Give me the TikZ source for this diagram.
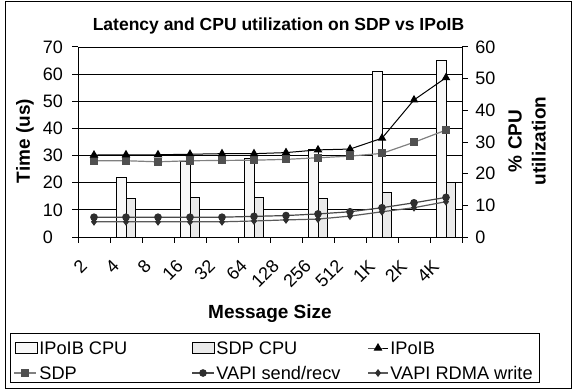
\documentclass[tikz,border=0pt]{standalone}
\usepackage{fontspec}
\setmainfont{Liberation Sans}
\usepackage{xcolor}
\usepackage{tikz}
\usetikzlibrary{plotmarks}

\definecolor{ipoibfill}{HTML}{F8F8F8}
\definecolor{sdpfill}{HTML}{EAEAEA}
\definecolor{sdpline}{HTML}{808080}
\definecolor{sdpmark}{HTML}{505050}
\definecolor{sendline}{HTML}{484848}
\definecolor{rdmaline}{HTML}{5A5A5A}
\definecolor{vapimark}{HTML}{2E2E2E}

\tikzset{
  ticklbl/.style={inner sep=0pt,font=\fontsize{9}{10.8}\selectfont},
  xlbl/.style={ticklbl,rotate=45,anchor=east},
  axtitle/.style={inner sep=0pt,font=\fontsize{9.5}{12}\selectfont\bfseries},
  legtext/.style={inner sep=0pt,anchor=base west,font=\fontsize{9.1}{10.8}\selectfont},
  gridline/.style={line width=0.45pt,black},
  ipoibbar/.style={draw=black,line width=0.4pt,fill=ipoibfill},
  sdpbar/.style={draw=black,line width=0.4pt,fill=sdpfill},
  ipoibser/.style={black,line width=0.5pt,mark=triangle*,mark size=2pt,mark options={fill=black}},
  sdpser/.style={sdpline,line width=0.6pt,mark=square*,mark size=1.7pt,mark options={draw=sdpmark,fill=sdpmark}},
  sendser/.style={sendline,line width=0.6pt,mark=*,mark size=1.6pt,mark options={draw=vapimark,fill=vapimark}},
  rdmaser/.style={rdmaline,line width=0.6pt,mark=diamond*,mark size=1.5pt,mark options={draw=vapimark,fill=vapimark}},
}

\begin{document}
\begin{tikzpicture}[x=0.5pt,y=-0.5pt]
\useasboundingbox (0,0) rectangle (573,391);
\draw[line width=0.6pt] (5.5,1.5) rectangle (571.5,388.5);
\node[axtitle,font=\fontsize{8.75}{10}\selectfont\bfseries,anchor=base] (title) at (278.5,31) {Latency and CPU utilization on SDP vs IPoIB};

\foreach \k in {1,...,7}
  \draw[gridline] (78,{237-27.143*\k}) -- (462,{237-27.143*\k});

\begin{scope}[shift={(78,237)},x=16pt,y=1.5833pt]
  \foreach \c/\a/\b in {1/18.8/12.2,3/23.8/12.5,5/24.8/12.4,7/27.7/12.2,9/52.4/14.1,11/55.7/17.1}{
    \draw[ipoibbar] (\c+0.2,0) rectangle (\c+0.5,\a);
    \draw[sdpbar] (\c+0.5,0) rectangle (\c+0.8,\b);
  }
\end{scope}

\draw[line width=0.5pt] (78,47) -- (78,237) -- (462,237) -- (462,47);
\foreach \t [count=\k from 0] in {0,10,20,30,40,50,60,70}{
  \draw[line width=0.5pt] (72,{237-27.143*\k}) -- (78,{237-27.143*\k});
  \node[ticklbl,anchor=west] (yl\k) at (42.5,{237-27.143*\k}) {\t};
}
\foreach \t [count=\k from 0] in {0,10,20,30,40,50,60}{
  \draw[line width=0.5pt] (462,{237-31.667*\k}) -- (468,{237-31.667*\k});
  \node[ticklbl,anchor=west] (yr\k) at (475,{237-31.667*\k}) {\t};
}
\foreach \k in {0,...,12}
  \draw[line width=0.5pt] ({78+32*\k},237) -- ({78+32*\k},243);
\foreach \t [count=\k from 0] in {2,4,8,16,32,64,128,256,512,1K,2K,4K}
  \node[xlbl] (xl\k) at ({78+32*\k+6},263) {\t};

\begin{scope}[shift={(78,237)},x=16pt,y=1.3571pt]
  \draw[rdmaser] plot coordinates {(0.5,5.6) (1.5,5.6) (2.5,5.6) (3.5,5.6) (4.5,5.6) (5.5,5.9) (6.5,6.3) (7.5,6.6) (8.5,7.7) (9.5,9.3) (10.5,10.8) (11.5,13.0)};
  \draw[sendser] plot coordinates {(0.5,7.3) (1.5,7.3) (2.5,7.3) (3.5,7.3) (4.5,7.3) (5.5,7.6) (6.5,7.9) (7.5,8.5) (8.5,9.3) (9.5,10.8) (10.5,12.6) (11.5,14.6)};
  \draw[sdpser] plot coordinates {(0.5,28.1) (1.5,28.1) (2.5,27.7) (3.5,28.1) (4.5,28.2) (5.5,28.3) (6.5,28.6) (7.5,29.2) (8.5,29.8) (9.5,30.8) (10.5,34.9) (11.5,39.4)};
  \draw[ipoibser] plot coordinates {(0.5,30.2) (1.5,30.3) (2.5,30.3) (3.5,30.5) (4.5,30.7) (5.5,30.7) (6.5,31.1) (7.5,32.1) (8.5,32.4) (9.5,36.4) (10.5,50.5) (11.5,58.7)};
\end{scope}

\node[axtitle,rotate=90] (ytitle) at (25,141) {Time (us)};
\node[axtitle,rotate=90,align=center] (y2title) at (527,141) {\% CPU\\utilization};
\node[axtitle,anchor=base] (xtitle) at (270,318) {Message Size};

\draw[line width=0.5pt] (10,333) rectangle (539,382);
\draw[ipoibbar] (15,342) rectangle (37,353);
\node[legtext] (leg1) at (39,354) {IPoIB CPU};
\draw[sdpbar] (192,342) rectangle (214,353);
\node[legtext] (leg2) at (216,354) {SDP CPU};
\draw[ipoibser,mark indices={2}] plot coordinates {(368,348) (378,348) (388,348)};
\node[legtext] (leg3) at (390,354) {IPoIB};
\draw[sdpser,mark indices={2}] plot coordinates {(14,373) (25,373) (36,373)};
\node[legtext] (leg4) at (39,379.5) {SDP};
\draw[sendser,mark indices={2}] plot coordinates {(192,373) (203,373) (214,373)};
\node[legtext] (leg5) at (216,379.5) {VAPI send/recv};
\draw[rdmaser,mark indices={2}] plot coordinates {(368,373) (378,373) (388,373)};
\node[legtext] (leg6) at (390,379.5) {VAPI RDMA write};
\end{tikzpicture}
\end{document}
